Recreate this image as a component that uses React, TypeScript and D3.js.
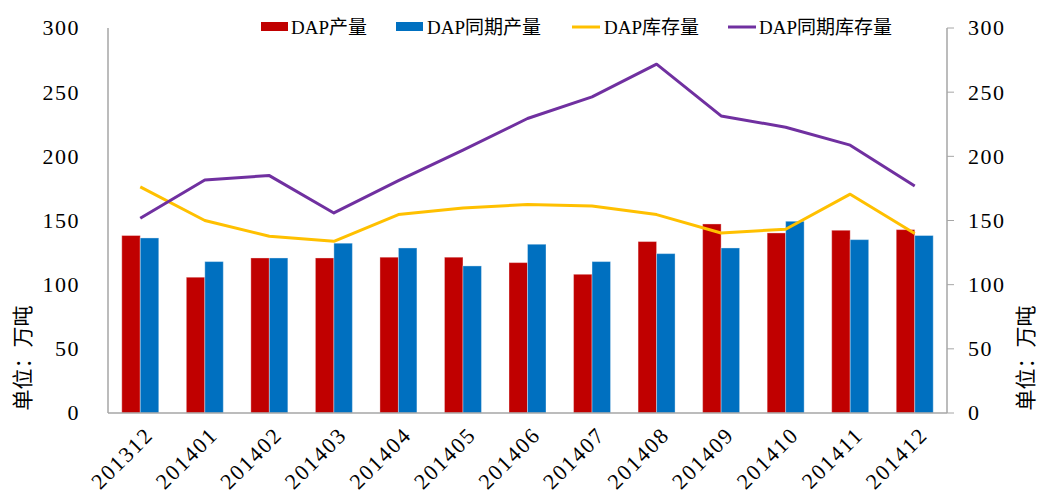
import * as d3 from 'd3';

// Chart data
const months = ['201312', '201401', '201402', '201403', '201404', '201405', '201406',
  '201407', '201408', '201409', '201410', '201411', '201412'];
const output = [138.3, 105.8, 120.8, 120.8, 121.4, 121.4, 117.2, 108.1, 133.6, 147.3, 140.3, 142.4, 142.9];
const outputLastYear = [136.4, 118, 120.8, 132.3, 128.6, 114.6, 131.5, 118, 124.2, 128.6, 149.4, 135.1, 138.3];
const stock = [176.2, 150, 137.7, 133.8, 154.6, 159.8, 162.4, 161.3, 154.6, 140.3, 143.2, 170.5, 139.8];
const stockLastYear = [151.7, 181.6, 185, 155.9, 181, 204.8, 229.5, 246.3, 271.8, 231.5, 222.7, 208.7, 176.9];
const yTicks = [0, 50, 100, 150, 200, 250, 300];

const W = 1040;
const H = 502;
const margin = { top: 28, right: 93, bottom: 89, left: 108 };
const axisColor = '#A6A6A6';
const numFont = "'Liberation Serif', 'Times New Roman', serif";
const cjkFont = "'Liberation Serif', 'Noto Sans CJK SC', serif";

export default function App() {
  const innerW = W - margin.left - margin.right;
  const innerH = H - margin.top - margin.bottom;

  const x = d3.scaleBand().domain(months).range([0, innerW]).paddingInner(0.427).paddingOuter(0.2135);
  const xs = d3.scaleBand().domain(['a', 'b']).range([0, x.bandwidth()]);
  const y = d3.scaleLinear().domain([0, 300]).range([innerH, 0]);
  const cx = (m: string) => (x(m) as number) + x.bandwidth() / 2;

  const line = d3.line<number>()
    .x((_, i) => cx(months[i]))
    .y(d => y(d));

  // legend layout
  const legend = [
    { label: 'DAP产量', color: '#C00000', type: 'rect', sx: 261, tx: 291 },
    { label: 'DAP同期产量', color: '#0070C0', type: 'rect', sx: 396, tx: 427 },
    { label: 'DAP库存量', color: '#FFC000', type: 'line', sx: 572, tx: 604 },
    { label: 'DAP同期库存量', color: '#7030A0', type: 'line', sx: 728, tx: 759 },
  ];

  return (
    <svg width={W} height={H} style={{ position: 'absolute', left: 0, top: 0, background: '#fff' }}>
      <g transform={`translate(${margin.left},${margin.top})`}>
        {/* bars */}
        {months.map((m, i) => (
          <g key={m} transform={`translate(${x(m)},0)`}>
            <rect x={xs('a')} y={y(output[i])} width={xs.bandwidth()} height={innerH - y(output[i])}
              fill="#C00000" stroke="#fff" strokeOpacity={0.35} strokeWidth={1} />
            <rect x={xs('b')} y={y(outputLastYear[i])} width={xs.bandwidth()} height={innerH - y(outputLastYear[i])}
              fill="#0070C0" stroke="#fff" strokeOpacity={0.35} strokeWidth={1} />
          </g>
        ))}

        {/* lines */}
        <path d={line(stock) || ''} fill="none" stroke="#FFC000" strokeWidth={3} strokeLinejoin="round" />
        <path d={line(stockLastYear) || ''} fill="none" stroke="#7030A0" strokeWidth={3} strokeLinejoin="round" />

        {/* axes */}
        <line x1={0} x2={0} y1={0} y2={innerH} stroke={axisColor} strokeWidth={1.5} />
        <line x1={innerW} x2={innerW} y1={0} y2={innerH} stroke={axisColor} strokeWidth={1.5} />
        <line x1={0} x2={innerW} y1={innerH} y2={innerH} stroke={axisColor} strokeWidth={1.5} />
        {yTicks.map(t => (
          <g key={t}>
            <line x1={innerW} x2={innerW + 7} y1={y(t)} y2={y(t)} stroke={axisColor} strokeWidth={1} />
            <text x={-28} y={y(t)} dy="0.34em" textAnchor="end" fontFamily={numFont} fontSize={22} letterSpacing={1.5} fill="#000">{t}</text>
            <text x={innerW + 21} y={y(t)} dy="0.34em" textAnchor="start" fontFamily={numFont} fontSize={22} letterSpacing={1.5} fill="#000">{t}</text>
          </g>
        ))}
        {months.map(m => (
          <text key={m} transform={`translate(${cx(m) + 9},${innerH + 18}) rotate(-45)`}
            textAnchor="end" dy="0.34em" fontFamily={numFont} fontSize={22} letterSpacing={1.8} fill="#000">{m}</text>
        ))}
      </g>

      {/* axis titles */}
      <text transform="translate(30,358) rotate(-90)" textAnchor="middle" fontFamily={cjkFont} fontSize={21} fill="#000">单位：万吨</text>
      <text transform="translate(1033,358) rotate(-90)" textAnchor="middle" fontFamily={cjkFont} fontSize={21} fill="#000">单位：万吨</text>

      {/* legend */}
      {legend.map(l => (
        <g key={l.label}>
          {l.type === 'rect'
            ? <rect x={l.sx} y={22} width={27} height={9} fill={l.color} />
            : <line x1={l.sx} x2={l.sx + 28} y1={27} y2={27} stroke={l.color} strokeWidth={3} />}
          <text x={l.tx} y={27} dy="0.36em" fontFamily={cjkFont} fontSize={19} fill="#000">{l.label}</text>
        </g>
      ))}
    </svg>
  );
}
